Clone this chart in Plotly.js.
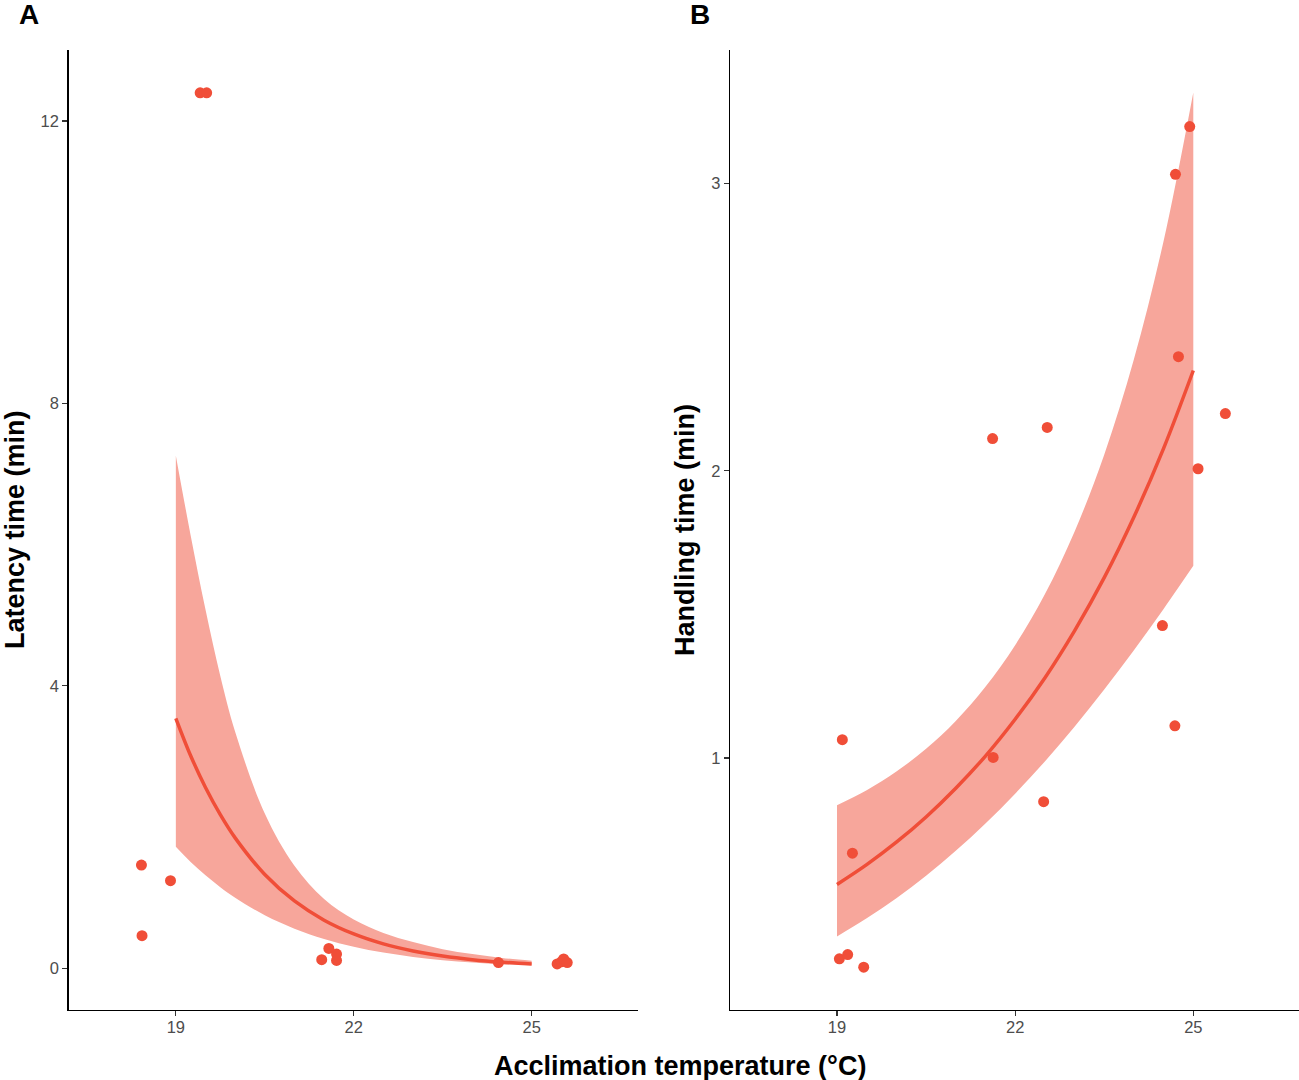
<!DOCTYPE html>
<html>
<head>
<meta charset="utf-8">
<script src="https://cdn.plot.ly/plotly-3.0.1.min.js"></script>
<style>
  html, body { margin: 0; padding: 0; background: #fff; }
  #chart { width: 1299px; height: 1080px; }
</style>
</head>
<body>
<div id="chart"></div>
<script>
// ---------- Panel A: Latency time ----------
const latTemp = [18.42, 18.43, 18.91, 19.41, 19.52, 21.46, 21.58, 21.71, 21.71, 24.44, 25.43, 25.50, 25.54, 25.60];
const latTime = [1.46, 0.46, 1.24, 12.40, 12.40, 0.12, 0.28, 0.20, 0.11, 0.08, 0.06, 0.09, 0.13, 0.08];

const latCurveTemp = [19.0, 19.25, 19.5, 19.75, 20.0, 20.5, 21.0, 21.5, 22.0, 22.5, 23.0, 23.5, 24.0, 24.5, 25.0];
const latFitVal    = [3.54, 3.01, 2.56, 2.175, 1.846, 1.327, 0.952, 0.680, 0.485, 0.344, 0.244, 0.172, 0.121, 0.085, 0.060];
const latBandUpper = [7.26, 6.13, 5.08, 4.14, 3.35, 2.19, 1.45, 0.98, 0.69, 0.50, 0.37, 0.27, 0.20, 0.145, 0.105];
const latBandLower = [1.72, 1.505, 1.315, 1.146, 0.997, 0.750, 0.560, 0.414, 0.304, 0.221, 0.160, 0.114, 0.081, 0.057, 0.040];

// ---------- Panel B: Handling time ----------
const handTemp = [24.94, 24.70, 24.75, 25.54, 21.62, 22.54, 25.08, 24.48, 24.69, 19.09, 21.63, 22.48, 19.26, 19.04, 19.18, 19.45];
const handTime = [3.198, 3.032, 2.397, 2.199, 2.112, 2.151, 2.007, 1.461, 1.112, 1.064, 1.002, 0.848, 0.669, 0.301, 0.316, 0.272];

const handCurveTemp = [19.0, 19.5, 20.0, 20.5, 21.0, 21.5, 22.0, 22.5, 23.0, 23.5, 24.0, 24.5, 25.0];
const handFitVal    = [0.56, 0.629, 0.707, 0.795, 0.895, 1.007, 1.135, 1.279, 1.443, 1.628, 1.839, 2.078, 2.349];
const handBandUpper = [0.836, 0.888, 0.953, 1.032, 1.129, 1.248, 1.393, 1.570, 1.788, 2.056, 2.388, 2.800, 3.317];
const handBandLower = [0.379, 0.442, 0.512, 0.590, 0.677, 0.772, 0.876, 0.988, 1.109, 1.239, 1.375, 1.519, 1.669];

// ---------- Labels ----------
const xTicks = [19, 22, 25];
const latTicks = [0, 4, 8, 12];
const handTicks = [1, 2, 3];
const panelLabels = ["A", "B"];
const xTitle = "Acclimation temperature (°C)";
const yTitleA = "Latency time (min)";
const yTitleB = "Handling time (min)";

const RED = "rgb(240,78,56)";
const BAND = "rgb(247,166,155)";

function bandTraces(xs, lo, hi, xa, ya) {
  return [
    { x: xs, y: lo, xaxis: xa, yaxis: ya, type: "scatter", mode: "lines",
      line: { width: 0, shape: "spline", color: BAND }, hoverinfo: "skip", showlegend: false },
    { x: xs, y: hi, xaxis: xa, yaxis: ya, type: "scatter", mode: "lines", fill: "tonexty",
      fillcolor: BAND, line: { width: 0, shape: "spline", color: BAND }, hoverinfo: "skip", showlegend: false }
  ];
}

const data = [
  ...bandTraces(latCurveTemp, latBandLower, latBandUpper, "x", "y"),
  { x: latCurveTemp, y: latFitVal, xaxis: "x", yaxis: "y", type: "scatter", mode: "lines",
    line: { color: RED, width: 3.5, shape: "spline" }, showlegend: false },
  { x: latTemp, y: latTime, xaxis: "x", yaxis: "y", type: "scatter", mode: "markers",
    marker: { color: RED, size: 11 }, showlegend: false },
  ...bandTraces(handCurveTemp, handBandLower, handBandUpper, "x2", "y2"),
  { x: handCurveTemp, y: handFitVal, xaxis: "x2", yaxis: "y2", type: "scatter", mode: "lines",
    line: { color: RED, width: 3.5, shape: "spline" }, showlegend: false },
  { x: handTemp, y: handTime, xaxis: "x2", yaxis: "y2", type: "scatter", mode: "markers",
    marker: { color: RED, size: 11 }, showlegend: false }
];

const W = 1299, H = 1080;
const tickFont = { family: "Liberation Sans, Arial, sans-serif", size: 16.5, color: "#4d4d4d" };
const axisCommon = {
  showgrid: false, zeroline: false, showline: true, linecolor: "#000", linewidth: 1.3,
  ticks: "outside", ticklen: 5, tickwidth: 1.2, tickcolor: "#333", tickfont: tickFont,
  fixedrange: true
};
const yDom = [(H - 1009.7) / H, (H - 50.2) / H];

const titleFont = { family: "Liberation Sans, Arial, sans-serif", size: 27, color: "#000" };

const layout = {
  width: W, height: H, autosize: false,
  margin: { l: 0, r: 0, t: 0, b: 0, pad: 0 },
  paper_bgcolor: "#fff", plot_bgcolor: "#fff",
  showlegend: false,
  xaxis: Object.assign({}, axisCommon, { domain: [68.5 / W, 637.8 / W], range: [17.19, 26.79],
    tickmode: "array", tickvals: xTicks, ticktext: xTicks.map(String), anchor: "y", ticklabelstandoff: -3 }),
  yaxis: Object.assign({}, axisCommon, { domain: yDom, range: [-0.588, 13.003],
    tickmode: "array", tickvals: latTicks, ticktext: latTicks.map(String), anchor: "x" }),
  xaxis2: Object.assign({}, axisCommon, { domain: [730.1 / W, 1], range: [17.2, 26.78],
    tickmode: "array", tickvals: xTicks, ticktext: xTicks.map(String), anchor: "y2", ticklabelstandoff: -3 }),
  yaxis2: Object.assign({}, axisCommon, { domain: yDom, range: [0.124, 3.464],
    tickmode: "array", tickvals: handTicks, ticktext: handTicks.map(String), anchor: "x2" }),
  annotations: [
    { text: "<b>" + panelLabels[0] + "</b>", xref: "paper", yref: "paper", x: 29 / W, y: 1 - 15 / H,
      xanchor: "center", yanchor: "middle", showarrow: false, font: Object.assign({}, titleFont, { size: 28 }) },
    { text: "<b>" + panelLabels[1] + "</b>", xref: "paper", yref: "paper", x: 699.5 / W, y: 1 - 15 / H,
      xanchor: "center", yanchor: "middle", showarrow: false, font: Object.assign({}, titleFont, { size: 28 }) },
    { text: "<b>" + xTitle + "</b>", xref: "paper", yref: "paper", x: 680 / W, y: 1 - 1066 / H,
      xanchor: "center", yanchor: "middle", showarrow: false, font: titleFont },
    { text: "<b>" + yTitleA + "</b>", xref: "paper", yref: "paper", x: 15 / W, y: 1 - 530 / H,
      xanchor: "center", yanchor: "middle", textangle: -90, showarrow: false, font: titleFont },
    { text: "<b>" + yTitleB + "</b>", xref: "paper", yref: "paper", x: 685 / W, y: 1 - 530 / H,
      xanchor: "center", yanchor: "middle", textangle: -90, showarrow: false, font: titleFont }
  ]
};

Plotly.newPlot("chart", data, layout, { displayModeBar: false, staticPlot: true });
</script>
</body>
</html>
